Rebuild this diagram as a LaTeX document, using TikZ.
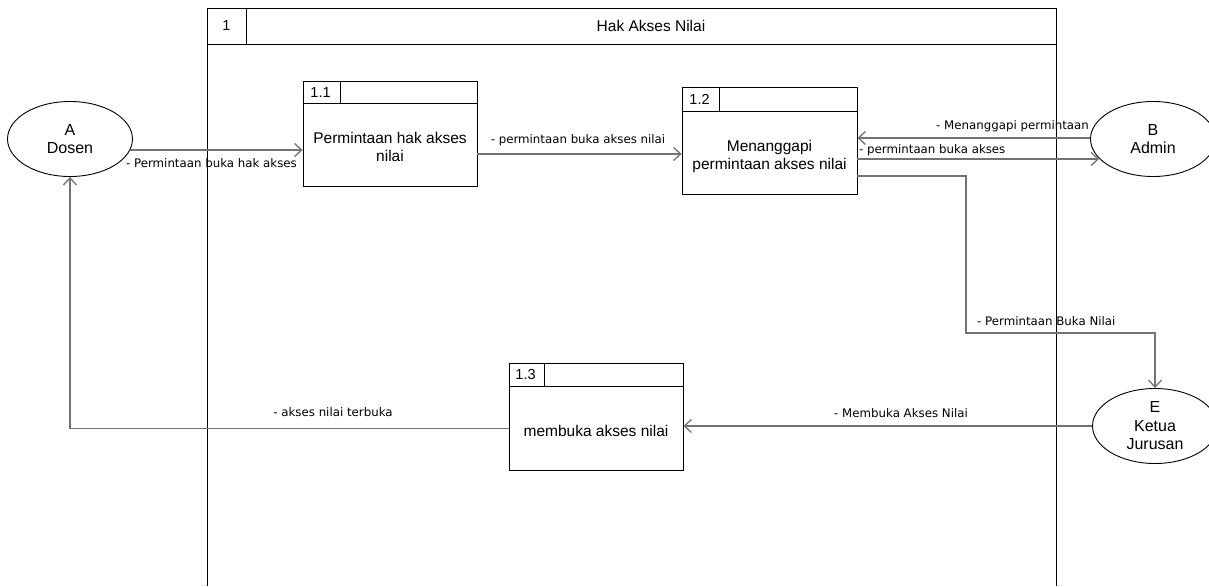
\documentclass[tikz,border=0pt]{standalone}
\usepackage{fontspec}
\setmainfont{Liberation Sans}
\newfontfamily\labelfont{DejaVu Sans}
\usetikzlibrary{arrows.meta,calc,shapes.geometric}

\tikzset{
  frameline/.style={draw=black, line width=0.9pt},
  procbox/.style={draw=black, line width=0.9pt, rectangle, inner sep=0pt},
  entity/.style={draw=black, line width=0.9pt, ellipse, inner sep=0pt,
    minimum width=125pt, minimum height=75pt, align=center,
    font=\fontsize{16}{18.5}\selectfont},
  boxtext/.style={align=center, font=\fontsize{15.5}{18}\selectfont},
  idtext/.style={font=\fontsize{14.5}{17}\selectfont},
  flow/.style={draw=black!55, line width=1.4pt,
    -{Straight Barb[length=7pt,width=13pt,line width=1.3pt]}},
  flowlabel/.style={font=\labelfont\fontsize{11.8}{14}\selectfont, inner sep=1pt}
}

\begin{document}
\begin{tikzpicture}[x=1pt,y=-1pt]
\useasboundingbox (0,0) rectangle (1209,586);

% process frame 1
\draw[frameline] (207,586) -- (207,8) -- (1056,8) -- (1056,586);
\draw[frameline] (207,44) -- (1056,44);
\draw[frameline] (246,8) -- (246,44);
\node[idtext] (fid) at (226.5,26) {1};
\node[font=\fontsize{15.5}{18}\selectfont] (ftitle) at (651,26) {Hak Akses Nilai};

% sub-process 1.1
\node[procbox, minimum width=174pt, minimum height=105pt] (p11) at (390,133.5) {};
\draw[frameline] ($(p11.north west)+(0,23)$) -- ($(p11.north east)+(0,23)$);
\draw[frameline] ($(p11.north west)+(38,0)$) -- ($(p11.north west)+(38,23)$);
\node[idtext] (p11id) at ($(p11.north west)+(18,11.5)$) {1.1};
\node[boxtext] (p11t) at (390,147) {Permintaan hak akses\\nilai};

% sub-process 1.2
\node[procbox, minimum width=175pt, minimum height=107pt] (p12) at (769.5,140.5) {};
\draw[frameline] ($(p12.north west)+(0,25)$) -- ($(p12.north east)+(0,25)$);
\draw[frameline] ($(p12.north west)+(38,0)$) -- ($(p12.north west)+(38,25)$);
\node[idtext] (p12id) at ($(p12.north west)+(18,12.5)$) {1.2};
\node[boxtext] (p12t) at (769.5,156) {Menanggapi\\permintaan akses nilai};

% sub-process 1.3
\node[procbox, minimum width=174pt, minimum height=107pt] (p13) at (596,416.5) {};
\draw[frameline] ($(p13.north west)+(0,24)$) -- ($(p13.north east)+(0,24)$);
\draw[frameline] ($(p13.north west)+(36,0)$) -- ($(p13.north west)+(36,24)$);
\node[idtext] (p13id) at ($(p13.north west)+(17,12)$) {1.3};
\node[boxtext] (p13t) at (596,431) {membuka akses nilai};

% external entities
\node[entity] (dosen) at (70,139) {A\\Dosen};
\node[entity] (admin) at (1153,139) {B\\Admin};
\node[entity] (ketua) at (1155,426) {E\\Ketua\\Jurusan};

% data flows
\coordinate (a1) at ($(dosen.center)+(0,11)$);
\draw[flow] ($(a1 -| dosen.east)+(-3,0)$) -- (a1 -| p11.west);
\node[flowlabel, anchor=north east] (l1) at (298,157) {- Permintaan buka hak akses};

\coordinate (a2) at ($(p11.east)+(0,20.5)$);
\draw[flow] (a2) -- (a2 -| p12.west);
\node[flowlabel] (l2) at (578,140) {- permintaan buka akses nilai};

\coordinate (a3) at ($(admin.center)+(0,-1)$);
\draw[flow] (a3 -| admin.west) -- (a3 -| p12.east);
\node[flowlabel, anchor=base east] (l3) at (1090,129) {- Menanggapi permintaan};

\coordinate (a4) at ($(p12.east)+(0,18.5)$);
\draw[flow] (a4) -- ($(a4 -| admin.west)+(9,0)$);
\node[flowlabel, anchor=base west] (l4) at (858,153) {- permintaan buka akses};

\coordinate (a5) at ($(p12.east)+(0,35.5)$);
\coordinate (bend5) at (966,333);
\draw[flow] (a5) -| (bend5) -| (ketua.north);
\node[flowlabel, anchor=base west] (l5) at (976,325) {- Permintaan Buka Nilai};

\draw[flow] (ketua.west) -- (ketua.west -| p13.east);
\node[flowlabel] (l6) at (901,413) {- Membuka Akses Nilai};

\coordinate (a7) at ($(p13.west)+(0,12)$);
\draw[flow] (a7) -| (dosen.south);
\node[flowlabel] (l7) at (333,412) {- akses nilai terbuka};
\end{tikzpicture}
\end{document}
